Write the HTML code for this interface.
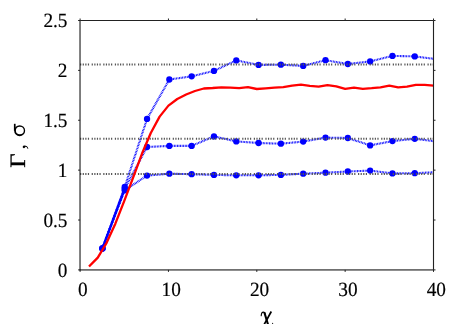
<!DOCTYPE html>
<html><head><meta charset="utf-8"><title>plot</title>
<style>
html,body{margin:0;padding:0;background:#fff;}
body{width:463px;height:324px;overflow:hidden;}
svg{display:block;will-change:transform;text-rendering:geometricPrecision}
.t{font-family:"Liberation Serif",serif;font-size:20.2px;fill:#000;stroke:#000;stroke-width:0.18px}
.lab{font-family:"Liberation Serif",serif;font-size:24px;fill:#000}
.ax{stroke:#000;stroke-width:1.0;fill:none}
.ax2{stroke:#222;stroke-width:1.12;fill:none}
.tk{stroke:#222;stroke-width:1;fill:none}
.dot{stroke:#555;stroke-width:2;stroke-dasharray:1.2 1.39 1.2 1.39 1.2 1.39 1.2 2.61;fill:none}
.bl{stroke:#0000ff;stroke-width:2.1;stroke-dasharray:0.85 0.7;fill:none;stroke-linejoin:round}
.red{stroke:#ff0000;stroke-width:2.3;fill:none;stroke-linejoin:round;stroke-linecap:butt}
</style></head><body>
<svg width="463" height="324" viewBox="0 0 463 324">
<rect width="463" height="324" fill="#fff"/>
<path d="M102.41,248.40 L124.72,187.00 L147.03,118.90 L169.34,79.50 L191.65,76.35 L213.96,70.90 L236.27,60.40 L258.58,64.90 L280.89,64.70 L303.20,65.90 L325.51,60.20 L347.82,64.00 L370.13,61.40 L392.44,55.90 L414.75,56.40 L433.50,58.80" class="bl"/>
<circle cx="102.41" cy="248.40" r="3.15" fill="#0000ff"/>
<circle cx="124.72" cy="187.00" r="3.15" fill="#0000ff"/>
<circle cx="147.03" cy="118.90" r="3.15" fill="#0000ff"/>
<circle cx="169.34" cy="79.50" r="3.15" fill="#0000ff"/>
<circle cx="191.65" cy="76.35" r="3.15" fill="#0000ff"/>
<circle cx="213.96" cy="70.90" r="3.15" fill="#0000ff"/>
<circle cx="236.27" cy="60.40" r="3.15" fill="#0000ff"/>
<circle cx="258.58" cy="64.90" r="3.15" fill="#0000ff"/>
<circle cx="280.89" cy="64.70" r="3.15" fill="#0000ff"/>
<circle cx="303.20" cy="65.90" r="3.15" fill="#0000ff"/>
<circle cx="325.51" cy="60.20" r="3.15" fill="#0000ff"/>
<circle cx="347.82" cy="64.00" r="3.15" fill="#0000ff"/>
<circle cx="370.13" cy="61.40" r="3.15" fill="#0000ff"/>
<circle cx="392.44" cy="55.90" r="3.15" fill="#0000ff"/>
<circle cx="414.75" cy="56.40" r="3.15" fill="#0000ff"/>

<path d="M102.41,248.40 L124.72,188.70 L147.03,147.00 L169.34,145.90 L191.65,145.90 L213.96,136.40 L236.27,141.40 L258.58,143.00 L280.89,143.70 L303.20,141.60 L325.51,137.60 L347.82,138.00 L370.13,145.40 L392.44,141.10 L414.75,138.80 L433.50,141.10" class="bl"/>
<circle cx="102.41" cy="248.40" r="3.15" fill="#0000ff"/>
<circle cx="124.72" cy="188.70" r="3.15" fill="#0000ff"/>
<circle cx="147.03" cy="147.00" r="3.15" fill="#0000ff"/>
<circle cx="169.34" cy="145.90" r="3.15" fill="#0000ff"/>
<circle cx="191.65" cy="145.90" r="3.15" fill="#0000ff"/>
<circle cx="213.96" cy="136.40" r="3.15" fill="#0000ff"/>
<circle cx="236.27" cy="141.40" r="3.15" fill="#0000ff"/>
<circle cx="258.58" cy="143.00" r="3.15" fill="#0000ff"/>
<circle cx="280.89" cy="143.70" r="3.15" fill="#0000ff"/>
<circle cx="303.20" cy="141.60" r="3.15" fill="#0000ff"/>
<circle cx="325.51" cy="137.60" r="3.15" fill="#0000ff"/>
<circle cx="347.82" cy="138.00" r="3.15" fill="#0000ff"/>
<circle cx="370.13" cy="145.40" r="3.15" fill="#0000ff"/>
<circle cx="392.44" cy="141.10" r="3.15" fill="#0000ff"/>
<circle cx="414.75" cy="138.80" r="3.15" fill="#0000ff"/>

<path d="M102.41,248.40 L124.72,190.30 L147.03,175.60 L169.34,173.70 L191.65,174.20 L213.96,174.90 L236.27,175.30 L258.58,175.30 L280.89,174.90 L303.20,173.70 L325.51,172.70 L347.82,171.50 L370.13,170.60 L392.44,173.40 L414.75,173.20 L433.50,172.30" class="bl"/>
<circle cx="102.41" cy="248.40" r="3.15" fill="#0000ff"/>
<circle cx="124.72" cy="190.30" r="3.15" fill="#0000ff"/>
<circle cx="147.03" cy="175.60" r="3.15" fill="#0000ff"/>
<circle cx="169.34" cy="173.70" r="3.15" fill="#0000ff"/>
<circle cx="191.65" cy="174.20" r="3.15" fill="#0000ff"/>
<circle cx="213.96" cy="174.90" r="3.15" fill="#0000ff"/>
<circle cx="236.27" cy="175.30" r="3.15" fill="#0000ff"/>
<circle cx="258.58" cy="175.30" r="3.15" fill="#0000ff"/>
<circle cx="280.89" cy="174.90" r="3.15" fill="#0000ff"/>
<circle cx="303.20" cy="173.70" r="3.15" fill="#0000ff"/>
<circle cx="325.51" cy="172.70" r="3.15" fill="#0000ff"/>
<circle cx="347.82" cy="171.50" r="3.15" fill="#0000ff"/>
<circle cx="370.13" cy="170.60" r="3.15" fill="#0000ff"/>
<circle cx="392.44" cy="173.40" r="3.15" fill="#0000ff"/>
<circle cx="414.75" cy="173.20" r="3.15" fill="#0000ff"/>

<line x1="102.41" y1="248.4" x2="124.72" y2="188.7" stroke="#0000ff" stroke-width="2.3"/>
<line x1="80.1" x2="433.5" y1="64.6" y2="64.6" class="dot"/>
<line x1="80.1" x2="433.5" y1="138.8" y2="138.8" class="dot"/>
<line x1="80.1" x2="433.5" y1="174.0" y2="174.0" class="dot"/>
<path d="M89.00,266.50 L97.77,257.60 L106.60,242.80 L115.44,223.40 L124.28,200.80 L133.11,177.60 L141.94,153.80 L150.78,133.00 L159.62,116.60 L168.45,105.60 L177.28,99.00 L186.12,94.50 L194.96,91.00 L203.79,88.50 L212.62,88.00 L221.46,87.30 L230.30,87.60 L239.13,88.10 L247.97,87.20 L256.80,89.00 L265.63,88.30 L274.47,87.60 L283.31,87.20 L292.14,85.70 L300.98,84.70 L309.81,85.80 L318.64,86.70 L327.48,85.10 L336.32,86.30 L345.15,88.90 L353.99,87.70 L362.82,88.90 L371.65,88.20 L380.49,87.30 L389.33,85.60 L398.16,87.30 L407.00,86.60 L415.83,84.90 L424.67,84.90 L433.50,85.60" class="red"/>
<line x1="80.02" x2="80.02" y1="20.5" y2="270.4" class="ax"/>
<line x1="79.6" x2="433.5" y1="269.95" y2="269.95" class="ax"/>
<line x1="433.5" x2="433.5" y1="20.5" y2="269.9" class="ax2"/>
<line x1="80.1" x2="433.5" y1="20.5" y2="20.5" class="ax2"/>
<line x1="80.10" x2="80.10" y1="269.9" y2="271.9" class="tk"/>
<line x1="80.10" x2="80.10" y1="20.5" y2="18.5" class="tk"/>
<text transform="translate(82.90,295.8) scale(0.955,1)" text-anchor="middle" class="t">0</text>
<line x1="168.45" x2="168.45" y1="269.9" y2="271.9" class="tk"/>
<line x1="168.45" x2="168.45" y1="20.5" y2="18.5" class="tk"/>
<text transform="translate(171.25,295.8) scale(0.955,1)" text-anchor="middle" class="t">10</text>
<line x1="256.80" x2="256.80" y1="269.9" y2="271.9" class="tk"/>
<line x1="256.80" x2="256.80" y1="20.5" y2="18.5" class="tk"/>
<text transform="translate(259.60,295.8) scale(0.955,1)" text-anchor="middle" class="t">20</text>
<line x1="345.15" x2="345.15" y1="269.9" y2="271.9" class="tk"/>
<line x1="345.15" x2="345.15" y1="20.5" y2="18.5" class="tk"/>
<text transform="translate(347.95,295.8) scale(0.955,1)" text-anchor="middle" class="t">30</text>
<line x1="433.50" x2="433.50" y1="269.9" y2="271.9" class="tk"/>
<line x1="433.50" x2="433.50" y1="20.5" y2="18.5" class="tk"/>
<text transform="translate(436.30,295.8) scale(0.955,1)" text-anchor="middle" class="t">40</text>
<line x1="80.1" x2="78.1" y1="269.90" y2="269.90" class="tk"/>
<line x1="433.5" x2="435.5" y1="269.90" y2="269.90" class="tk"/>
<text transform="translate(67.5,276.70) scale(0.955,1)" text-anchor="end" class="t">0</text>
<line x1="80.1" x2="78.1" y1="220.02" y2="220.02" class="tk"/>
<line x1="433.5" x2="435.5" y1="220.02" y2="220.02" class="tk"/>
<text transform="translate(67.5,226.82) scale(0.955,1)" text-anchor="end" class="t">0.5</text>
<line x1="80.1" x2="78.1" y1="170.14" y2="170.14" class="tk"/>
<line x1="433.5" x2="435.5" y1="170.14" y2="170.14" class="tk"/>
<text transform="translate(67.5,176.94) scale(0.955,1)" text-anchor="end" class="t">1</text>
<line x1="80.1" x2="78.1" y1="120.26" y2="120.26" class="tk"/>
<line x1="433.5" x2="435.5" y1="120.26" y2="120.26" class="tk"/>
<text transform="translate(67.5,127.06) scale(0.955,1)" text-anchor="end" class="t">1.5</text>
<line x1="80.1" x2="78.1" y1="70.38" y2="70.38" class="tk"/>
<line x1="433.5" x2="435.5" y1="70.38" y2="70.38" class="tk"/>
<text transform="translate(67.5,77.18) scale(0.955,1)" text-anchor="end" class="t">2</text>
<line x1="80.1" x2="78.1" y1="20.50" y2="20.50" class="tk"/>
<line x1="433.5" x2="435.5" y1="20.50" y2="20.50" class="tk"/>
<text transform="translate(67.5,27.30) scale(0.955,1)" text-anchor="end" class="t">2.5</text>
<g transform="translate(25.4,167.3) rotate(-90)" class="lab"><text x="-0.4" y="0" font-size="24" transform="scale(1.04,0.915)" stroke="#000" stroke-width="0.35">Γ</text><text x="17.9" y="0" font-size="22">,</text></g>
<path fill-rule="evenodd" fill="#000" d="M14.15,130.7 a5.5,5.5 0 1 0 11,0 a5.5,5.5 0 1 0 -11,0 Z M15.9,130.45 a3.95,3.8 0 1 0 7.9,0 a3.95,3.8 0 1 0 -7.9,0 Z"/>
<line x1="14.75" x2="14.75" y1="123.8" y2="130.7" stroke="#000" stroke-width="1.7"/>
<path d="M261.2,315.8 C261.3,313.5 262.3,312.1 263.4,312.1 C264.3,312.1 264.9,312.8 265.3,314.0" fill="none" stroke="#000" stroke-width="1.1" stroke-linecap="round"/>
<path d="M264.3,312.4 L268.2,325" fill="none" stroke="#000" stroke-width="2.0"/>
<path d="M271.3,311.5 L263.9,325" fill="none" stroke="#000" stroke-width="1.7"/>
<circle cx="272.6" cy="323.4" r="0.6" fill="#222"/>
</svg>
</body></html>
